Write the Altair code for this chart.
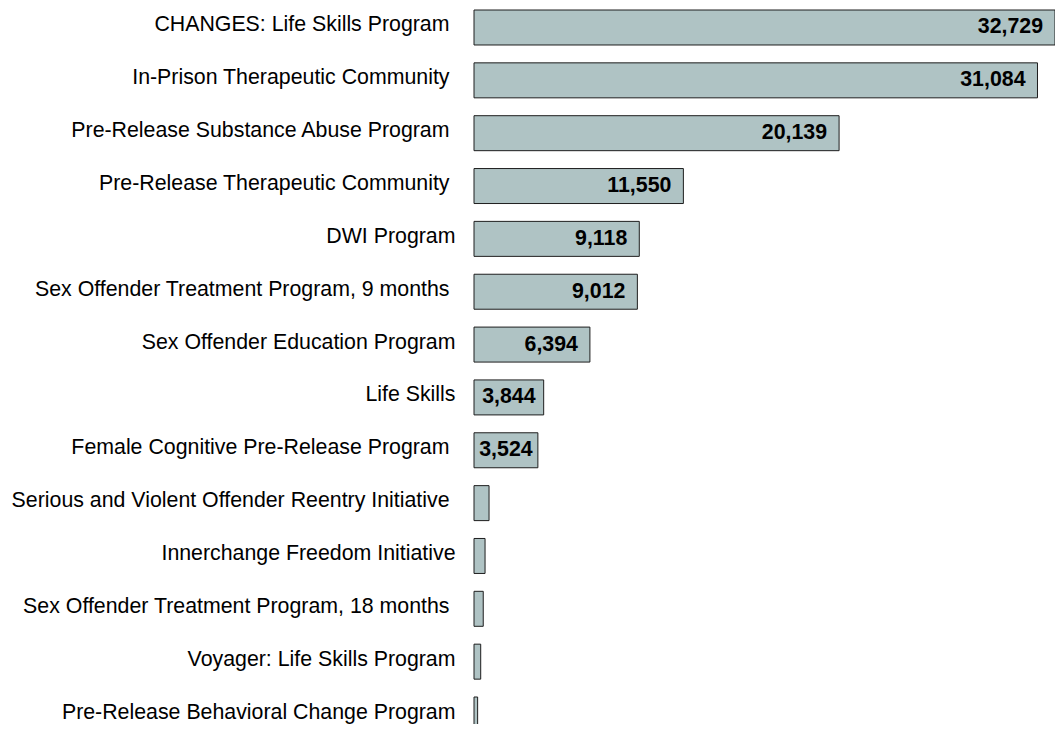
import json
import altair as alt
import pandas as pd

programs = [
    "CHANGES: Life Skills Program",
    "In-Prison Therapeutic Community",
    "Pre-Release Substance Abuse Program",
    "Pre-Release Therapeutic Community",
    "DWI Program",
    "Sex Offender Treatment Program, 9 months",
    "Sex Offender Education Program",
    "Life Skills",
    "Female Cognitive Pre-Release Program",
    "Serious and Violent Offender Reentry Initiative",
    "Innerchange Freedom Initiative",
    "Sex Offender Treatment Program, 18 months",
    "Voyager: Life Skills Program",
    "Pre-Release Behavioral Change Program",
]
participants = [32729, 31084, 20139, 11550, 9118, 9012, 6394, 3844, 3524,
                830, 610, 510, 370, 200]
# category names that carry a trailing space in the original labels
trailing_space = [True, True, True, True, False, True, False, False, True,
                  True, False, True, False, False]
labelled = [True, True, True, True, True, True, True, True, True,
            False, False, False, False, False]
label_inside_end = [True, True, True, True, True, True, True, False, False,
                    False, False, False, False, False]

df = pd.DataFrame({
    "program": programs,
    "value": participants,
    "labelled": labelled,
    "inside_end": label_inside_end,
})

spaced = [p for p, t in zip(programs, trailing_space) if t]
spaced_test = "indexof(" + json.dumps(spaced) + ", datum.value) >= 0"

FONT = "Arial, Liberation Sans, sans-serif"
FILL = "#afc3c4"
STROKE = "#1e1e1e"

y_scale = alt.Scale(range=[2, 724.0], paddingInner=0.338, paddingOuter=0)
y_axis = alt.Axis(title=None, domain=False, ticks=False,
                  labelFont=FONT, labelFontSize=21.33,
                  labelColor="#000000", labelLimit=1000,
                  labelPadding={"condition": {"test": spaced_test, "value": 25},
                                "value": 19},
                  labelOffset=-2)
y_enc = alt.Y("program:N", sort=programs, scale=y_scale, axis=y_axis)

x_scale = alt.Scale(domain=[0, 32050], nice=False, zero=True, clamp=True)

bars = alt.Chart(df).mark_bar(
    fill=FILL, stroke=STROKE, strokeWidth=1
).encode(
    x=alt.X("value:Q", scale=x_scale, axis=None),
    y=y_enc,
)

end_labels = alt.Chart(df).transform_filter(
    "datum.labelled && datum.inside_end"
).mark_text(
    align="right", baseline="middle", dx=-12, font=FONT, fontSize=21.33,
    fontWeight="bold", color="#000000"
).encode(
    x=alt.X("value:Q", scale=x_scale, axis=None),
    y=y_enc,
    text=alt.Text("value:Q", format=","),
)

mid_labels = alt.Chart(df).transform_filter(
    "datum.labelled && !datum.inside_end"
).transform_calculate(
    mid="datum.value / 2"
).mark_text(
    align="center", baseline="middle", font=FONT, fontSize=21.33,
    fontWeight="bold", color="#000000"
).encode(
    x=alt.X("mid:Q", scale=x_scale, axis=None),
    y=y_enc,
    text=alt.Text("value:Q", format=","),
)

chart = alt.layer(bars, end_labels, mid_labels).properties(
    width=581,
    height=716,
    autosize=alt.AutoSizeParams(type="none"),
    padding={"left": 466, "top": 0, "right": 0, "bottom": 0},
    background="#ffffff",
).configure_view(stroke=None)

chart.save("out.html", embed_options={"renderer": "svg", "actions": False})
